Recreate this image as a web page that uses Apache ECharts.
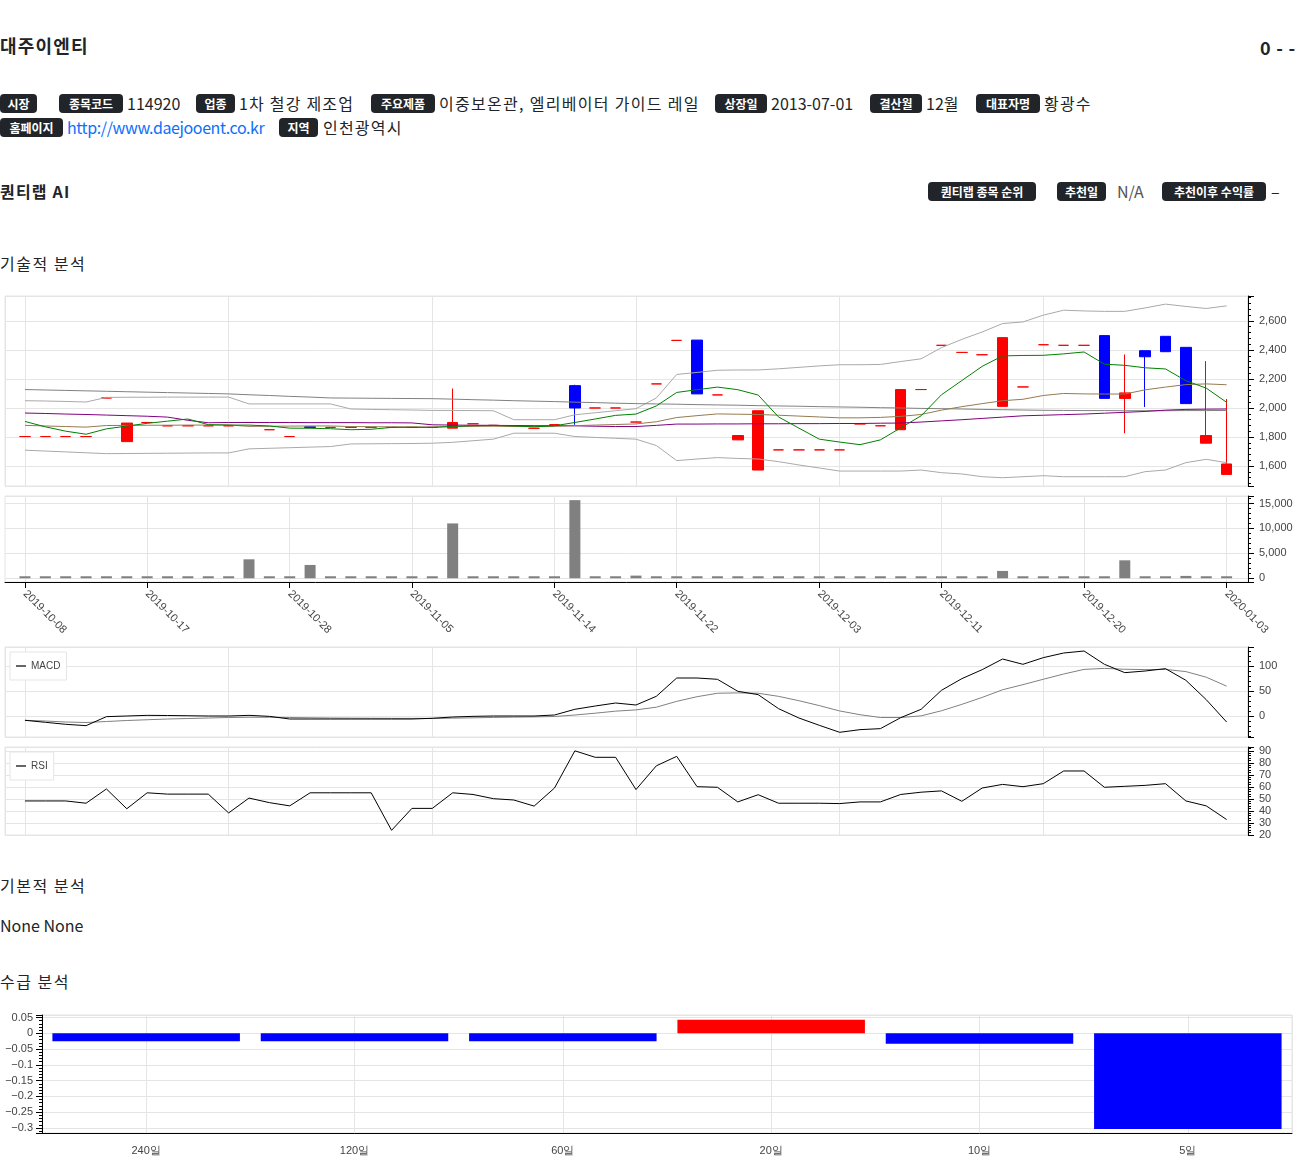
<!DOCTYPE html>
<html><head><meta charset="utf-8">
<script src="https://cdn.jsdelivr.net/npm/echarts/dist/echarts.min.js"></script>
<style>
html,body{margin:0;padding:0;background:#fff}
body{width:1296px;height:1167px;position:relative;overflow:hidden;font-family:"Noto Sans CJK KR","Noto Sans",sans-serif;color:#212529}
.t{position:absolute;white-space:nowrap}
.b{position:absolute;background:#212529;color:#fff;font-weight:bold;font-size:12px;border-radius:4px;text-align:center;height:19px;line-height:19px;white-space:nowrap}
.v{position:absolute;font-size:16px;height:19px;line-height:19px;white-space:nowrap}
.k{letter-spacing:1.2px}
#tech{position:absolute;left:0;top:290px;width:1296px;height:560px}
#flow{position:absolute;left:0;top:1000px;width:1296px;height:167px}
</style></head>
<body>
<div class="t" style="left:0;top:33px;font-size:18px;font-weight:bold;line-height:24px;letter-spacing:1.2px">대주이엔티</div>
<div class="t" style="right:0;top:35px;font-size:18px;font-weight:bold;line-height:24px;letter-spacing:0.8px">0 - -</div>

<div class="b" style="left:0;top:94px;width:37px">시장</div>
<div class="b" style="left:59px;top:94px;width:64px">종목코드</div><div class="v" style="left:127px;top:94px">114920</div>
<div class="b" style="left:196px;top:94px;width:39px">업종</div><div class="v k" style="left:239px;top:94px">1차 철강 제조업</div>
<div class="b" style="left:371px;top:94px;width:64px">주요제품</div><div class="v k" style="left:439px;top:94px;letter-spacing:1.3px">이중보온관, 엘리베이터 가이드 레일</div>
<div class="b" style="left:715px;top:94px;width:52px">상장일</div><div class="v" style="left:771px;top:94px">2013-07-01</div>
<div class="b" style="left:870px;top:94px;width:52px">결산월</div><div class="v" style="left:926px;top:94px">12월</div>
<div class="b" style="left:976px;top:94px;width:64px">대표자명</div><div class="v k" style="left:1044px;top:94px">황광수</div>
<div class="b" style="left:0;top:118px;width:63px">홈페이지</div><div class="v" style="left:67px;top:118px;color:#0d6efd;letter-spacing:-0.4px">http://www.daejooent.co.kr</div>
<div class="b" style="left:279px;top:118px;width:39px">지역</div><div class="v k" style="left:323px;top:118px">인천광역시</div>

<div class="t" style="left:0;top:180px;font-size:16px;font-weight:bold;line-height:22px;letter-spacing:1.2px">퀀티랩 AI</div>
<div class="b" style="left:928px;top:182px;width:108px">퀀티랩 종목 순위</div>
<div class="b" style="left:1057px;top:182px;width:49px">추천일</div><div class="v" style="left:1117px;top:182px;color:#555">N/A</div>
<div class="b" style="left:1162px;top:182px;width:104px">추천이후 수익률</div><div class="v" style="left:1271px;top:182px">–</div>

<div class="t" style="left:0;top:252px;font-size:16px;line-height:22px;letter-spacing:1.5px">기술적 분석</div>
<div id="tech"></div>
<div class="t" style="left:0;top:874px;font-size:16px;line-height:22px;letter-spacing:1.5px">기본적 분석</div>
<div class="t" style="left:0;top:914px;font-size:16px;line-height:22px">None None</div>
<div class="t" style="left:0;top:970px;font-size:16px;line-height:22px;letter-spacing:1.5px">수급 분석</div>
<div id="flow"></div>

<script>
const dates = ['2019-10-08','2019-10-10','2019-10-11','2019-10-14','2019-10-15','2019-10-16','2019-10-17','2019-10-18','2019-10-21','2019-10-22',
'2019-10-23','2019-10-24','2019-10-25','2019-10-28','2019-10-29','2019-10-30','2019-10-31','2019-11-01','2019-11-04','2019-11-05',
'2019-11-06','2019-11-07','2019-11-08','2019-11-11','2019-11-12','2019-11-13','2019-11-14','2019-11-15','2019-11-18','2019-11-19',
'2019-11-20','2019-11-21','2019-11-22','2019-11-25','2019-11-26','2019-11-27','2019-11-28','2019-11-29','2019-12-02','2019-12-03',
'2019-12-04','2019-12-05','2019-12-06','2019-12-09','2019-12-10','2019-12-11','2019-12-12','2019-12-13','2019-12-16','2019-12-17',
'2019-12-18','2019-12-19','2019-12-20','2019-12-23','2019-12-24','2019-12-26','2019-12-27','2019-12-30','2020-01-02','2020-01-03'];
const tickDates = ['2019-10-08','2019-10-17','2019-10-28','2019-11-05','2019-11-14','2019-11-22','2019-12-03','2019-12-11','2019-12-20','2020-01-03'];

const openP  = [1803,1803,1803,1803,2069,1768,1900,1877,1877,1877,1877,1900,1850,1803,1870,1866,1866,1866,1866,1866,
1866,1861,1891,1880,1875,1860,1885,2154,2000,2000,1903,2166,2466,2468,2090,1780,1572,1711,1711,1711,
1711,1890,1877,1850,2127,2432,2383,2367,2011,2145,2436,2432,2432,2499,2066,2395,2494,2418,1757,1542];
const closeP = [1803,1803,1803,1803,2069,1896,1900,1877,1877,1877,1877,1900,1850,1803,1866,1866,1866,1866,1866,1866,
1866,1900,1891,1880,1875,1860,1885,2000,2000,2000,1903,2166,2466,2097,2090,1810,1981,1711,1711,1711,
1711,1890,1877,2127,2127,2432,2383,2367,2485,2145,2436,2432,2432,2066,2104,2353,2388,2030,1810,1614];
const lowP   = [1803,1803,1803,1803,2069,1768,1900,1877,1877,1877,1877,1900,1850,1803,1866,1866,1866,1866,1866,1866,
1866,1861,1891,1880,1875,1860,1885,1884,2000,2000,1903,2166,2466,2097,2090,1780,1572,1711,1711,1711,
1711,1890,1877,1850,2127,2432,2383,2367,2011,2145,2436,2432,2432,2066,1826,2007,2388,2030,1757,1542];
const highP  = [1803,1803,1803,1803,2069,1896,1900,1877,1877,1877,1877,1900,1850,1803,1870,1866,1866,1866,1866,1866,
1866,2134,1891,1880,1875,1860,1885,2160,2000,2000,1903,2166,2466,2468,2090,1810,1981,1711,1711,1711,
1711,1890,1877,2127,2127,2432,2383,2367,2485,2145,2436,2432,2432,2499,2369,2395,2494,2418,2323,2062];

const ma5   = [1907,1870,1840,1819,1856,1875,1894,1909,1924,1885,1882,1882,1876,1861,1860,1857,1850,1853,1866,1866,
1866,1873,1878,1880,1876,1870,1877,1900,1924,1949,1958,2014,2107,2126,2144,2126,2089,1938,1861,1785,
1765,1747,1780,1863,1946,2091,2189,2287,2359,2362,2363,2373,2386,2302,2294,2277,2269,2188,2137,2039];
const ma20  = [1880,1876,1872,1868,1879,1880,1881,1881,1882,1882,1883,1873,1874,1875,1876,1876,1872,1871,1870,1870,
1869,1871,1873,1874,1872,1873,1873,1878,1882,1886,1890,1905,1934,1947,1959,1957,1955,1950,1944,1938,
1932,1932,1935,1942,1955,1985,2009,2030,2050,2060,2086,2100,2097,2096,2096,2125,2144,2161,2166,2160];
const ma60  = [1965,1962,1958,1955,1951,1947,1943,1937,1915,1898,1900,1900,1900,1900,1899,1899,1899,1898,1898,1897,
1884,1882,1881,1880,1879,1878,1878,1877,1874,1872,1872,1880,1889,1889,1890,1890,1891,1891,1892,1892,
1893,1893,1895,1896,1903,1911,1919,1928,1937,1946,1950,1954,1958,1964,1970,1976,1985,1990,1992,1993];
const ma120 = [2127,2124,2121,2118,2115,2112,2109,2106,2103,2100,2097,2091,2086,2080,2075,2069,2068,2067,2066,2065,
2064,2061,2057,2054,2050,2047,2044,2040,2037,2033,2030,2028,2026,2023,2021,2019,2016,2014,2012,2009,
2007,2005,2002,2000,1997,1995,1993,1990,1988,1986,1984,1983,1982,1982,1981,1981,1981,1982,1982,1983];
const bbUpper = [2050,2048,2045,2041,2073,2074,2074,2075,2075,2075,2075,2028,2028,2028,2028,2028,1993,1990,1988,1986,
1983,1983,1982,1981,1919,1919,1919,1953,1967,1981,1995,2069,2231,2245,2260,2262,2262,2270,2280,2290,
2298,2298,2300,2320,2339,2416,2473,2524,2582,2593,2640,2674,2669,2666,2666,2690,2716,2700,2686,2704];
const bbLower = [1709,1703,1697,1691,1685,1686,1687,1688,1689,1690,1690,1718,1722,1726,1730,1734,1752,1753,1754,1755,
1757,1763,1774,1785,1826,1826,1826,1803,1797,1791,1785,1741,1637,1648,1658,1652,1648,1630,1607,1586,
1565,1565,1565,1565,1572,1554,1545,1526,1519,1526,1533,1526,1526,1526,1526,1561,1572,1623,1646,1623];

const volume = [0,0,0,0,0,0,0,0,0,0,0,3800,0,0,2670,0,0,0,0,0,
0,11000,0,0,0,0,200,15670,0,0,530,0,0,0,0,330,250,270,0,0,
0,0,0,250,0,0,0,0,1470,0,0,0,0,400,3600,0,0,470,0,0];

const macd = [-8.6,-12.6,-16.6,-19.3,-1.3,0,1.3,1,0.5,0,0,1.3,-0.7,-6,-6,-6,-6,-6,-6,-6,
-4.6,-2,-0.7,0,0,0,2,13.4,20,26,22,39.4,76,76,73.4,49.4,42.7,14.7,-4,-18.6,
-32.6,-27.3,-25.3,-3.3,13.4,51.4,74.7,92.7,114,103.4,116.7,126,130,103.4,86.7,90,94.7,71.4,32.7,-12];
const signal = [-8.6,-10,-12,-13,-11,-9,-7.5,-6,-5,-4,-3,-2.5,-2.5,-3,-3.5,-4,-4.3,-4.5,-4.7,-4.8,
-4.8,-4.3,-3.6,-2.9,-2.3,-1.8,-1,2,5.6,9.7,12.2,17.6,29.3,38.6,45.5,46.2,45.5,39.3,30.6,20.8,
10.1,2.6,-3,-3,0.3,10.5,23.3,37.2,52.5,62.7,73.5,84,93.2,95.2,93.5,92.8,93.2,88.8,77.6,59.7];
const rsi = [48.2,48.2,48.2,46.3,58.2,41.7,55,53.9,53.9,53.9,38.2,50.6,46.8,44.1,55,55,55,55,23.7,42,
42,55,53.6,50.1,49,43.9,59,90,84.6,84.6,57.7,77.5,85.4,60.1,59.6,47.4,53.4,46.3,46.3,46.3,
46,47.4,47.4,53.6,55.5,56.6,47.9,59,62,60.1,62.6,73.2,73.2,59.6,60.4,61.2,62.6,48.2,44.1,32.7];

const flowCats = ['240일','120일','60일','20일','10일','5일'];
const flowVals = [-0.025,-0.025,-0.025,0.043,-0.033,-0.303];

const RED = '#ff0000', BLUE = '#0000ff';
const AF = '"Liberation Sans", Arial, sans-serif';
const XMIN = -0.98, XMAX = 60.05;
const gridLine = {show:true, lineStyle:{color:'#e5e5e5', width:1}};
const fmtThousands = v => Math.round(v).toLocaleString('en-US');

function yAx(gi, min, max, step, fmt) {
  return {type:'value', gridIndex:gi, position:'right', min:min, max:max, minInterval:step, maxInterval:step,
    axisLine:{show:true, onZero:false, lineStyle:{color:'#000', width:1}},
    axisTick:{show:true, length:6, lineStyle:{color:'#000'}},
    minorTick:{show:true, splitNumber:5, length:3, lineStyle:{color:'#000'}},
    axisLabel:{color:'#444', fontSize:11, fontFamily:AF, margin:11, showMinLabel:false, showMaxLabel:false, formatter:fmt},
    splitLine:gridLine, minorSplitLine:{show:false}};
}
function xAx(gi) {
  return {type:'value', gridIndex:gi, min:XMIN, max:XMAX, minInterval:10, maxInterval:10,
    axisLine:{show:false, onZero:false}, axisTick:{show:false}, axisLabel:{show:false}, splitLine:gridLine};
}
const tickIdx = tickDates.map(d => dates.indexOf(d));
const xs = dates.map((d, i) => i);
const pts = arr => arr.map((v, i) => [xs[i], v]);

const candleData = dates.map((d, i) => {
  const c = closeP[i] >= openP[i] ? RED : BLUE;
  return {value:[i, openP[i], closeP[i], lowP[i], highP[i]], itemStyle:{color:c, color0:c, borderColor:c, borderColor0:c}};
});
function ln(name, data, color, xi, yi, z) {
  return {type:'line', name:name, xAxisIndex:xi, yAxisIndex:yi, data:pts(data), showSymbol:false, symbol:'none',
    lineStyle:{color:color, width:1}, itemStyle:{color:color}, z:z||3, silent:true};
}

const GL = 5, GW = 1243;
const chart = echarts.init(document.getElementById('tech'));
chart.setOption({
  animation:false,
  grid:[
    {left:GL, top:6, width:GW, height:190, show:true, borderColor:'#e5e5e5', borderWidth:1},
    {left:GL, top:206, width:GW, height:86, show:true, borderColor:'#e5e5e5', borderWidth:1},
    {left:GL, top:357, width:GW, height:90, show:true, borderColor:'#e5e5e5', borderWidth:1},
    {left:GL, top:457, width:GW, height:88, show:true, borderColor:'#e5e5e5', borderWidth:1}
  ],
  xAxis:[
    xAx(0),
    {type:'value', gridIndex:1, min:XMIN, max:XMAX, position:'bottom',
      axisLine:{show:true, onZero:false, lineStyle:{color:'#000', width:1}},
      axisTick:{show:true, customValues:tickIdx, length:6, lineStyle:{color:'#000'}},
      axisLabel:{show:true, customValues:tickIdx, rotate:-45, margin:10, color:'#444', fontSize:11, fontFamily:AF,
        formatter: v => dates[Math.round(v)]},
      splitLine:gridLine},
    xAx(2), xAx(3)
  ],
  yAxis:[
    yAx(0, 1462, 2772, 200, fmtThousands),
    yAx(1, -750, 16500, 5000, fmtThousands),
    yAx(2, -42, 138, 50, v => String(Math.round(v))),
    yAx(3, 19.8, 93.2, 10, v => String(Math.round(v)))
  ],
  legend:[
    {data:['MACD'], left:10, top:362, icon:'rect', itemWidth:10, itemHeight:2, padding:[9,6,9,6], borderColor:'#e5e5e5', borderWidth:1,
      backgroundColor:'#fff', textStyle:{fontSize:10, color:'#444', fontFamily:AF}, itemStyle:{color:'#666'}, selectedMode:false},
    {data:['RSI'], left:10, top:462, icon:'rect', itemWidth:10, itemHeight:2, padding:[9,6,9,6], borderColor:'#e5e5e5', borderWidth:1,
      backgroundColor:'#fff', textStyle:{fontSize:10, color:'#444', fontFamily:AF}, itemStyle:{color:'#666'}, selectedMode:false}
  ],
  series:[
    {type:'candlestick', xAxisIndex:0, yAxisIndex:0, data:candleData, barWidth:11, itemStyle:{borderWidth:1}, z:2, silent:true},
    ln('bbu', bbUpper, '#a9a9a9', 0, 0),
    ln('bbl', bbLower, '#a9a9a9', 0, 0),
    ln('ma120', ma120, '#808080', 0, 0),
    ln('ma60', ma60, '#800080', 0, 0),
    ln('ma20', ma20, '#957a50', 0, 0),
    ln('ma5', ma5, '#008000', 0, 0),
    {type:'bar', xAxisIndex:1, yAxisIndex:1, data:pts(volume), barWidth:11, barMinHeight:2, itemStyle:{color:'#808080'}, silent:true},
    ln('MACD', macd, '#000000', 2, 2, 4),
    ln('signal', signal, '#808080', 2, 2, 3),
    ln('RSI', rsi, '#000000', 3, 3, 3)
  ]
});

const flow = echarts.init(document.getElementById('flow'));
const flowFmt = v => { const s = String(Number(v.toFixed(2))); return s.replace('-', '\u2212'); };
flow.setOption({
  animation:false,
  grid:{left:42, right:4, top:15, bottom:34, show:true, borderColor:'#e5e5e5', borderWidth:1},
  xAxis:[
    {type:'category', data:flowCats, axisLine:{onZero:false, lineStyle:{color:'#000', width:1}},
      axisTick:{alignWithLabel:true, length:6, lineStyle:{color:'#000'}},
      axisLabel:{color:'#444', fontSize:11, margin:12}, splitLine:{show:false}},
    {type:'value', min:-0.5, max:5.5, minInterval:1, maxInterval:1, position:'top',
      axisLine:{show:false, onZero:false}, axisTick:{show:false}, axisLabel:{show:false}, splitLine:gridLine}
  ],
  yAxis:{type:'value', min:-0.316, max:0.058, minInterval:0.05, maxInterval:0.05,
    axisLine:{show:true, onZero:false, lineStyle:{color:'#000', width:1}},
    axisTick:{show:true, length:6, lineStyle:{color:'#000'}},
    minorTick:{show:true, splitNumber:5, length:3, lineStyle:{color:'#000'}},
    axisLabel:{color:'#444', fontSize:11, fontFamily:AF, margin:9, showMinLabel:false, showMaxLabel:false, formatter:flowFmt},
    splitLine:gridLine},
  series:[{type:'bar', xAxisIndex:0, data:flowVals.map(v => ({value:v, itemStyle:{color: v >= 0 ? RED : BLUE}})), barWidth:'90%', silent:true}]
});
</script>
</body></html>
